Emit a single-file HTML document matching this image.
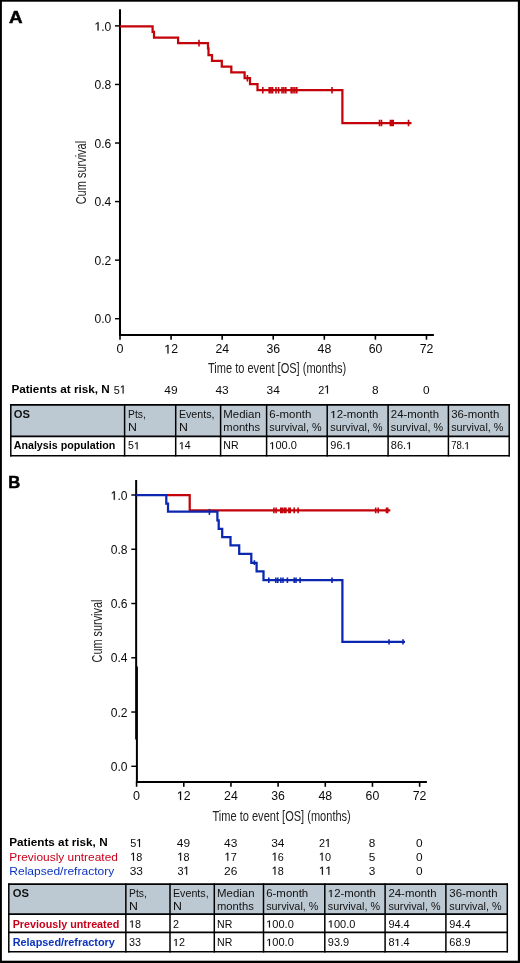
<!DOCTYPE html>
<html><head><meta charset="utf-8"><title>Figure</title>
<style>
html,body{margin:0;padding:0;background:#fff;}
svg{display:block;will-change:transform;font-family:"Liberation Sans", sans-serif;}
text{font-family:"Liberation Sans", sans-serif;}
</style></head><body>
<svg width="520" height="963" viewBox="0 0 520 963">
<rect x="0" y="0" width="520" height="963" fill="#000"/>
<rect x="1.9" y="1.7" width="515.95" height="959" fill="#fff"/>
<text x="9.0" y="23.1" font-size="17" font-weight="bold" fill="#000" textLength="13.6" lengthAdjust="spacingAndGlyphs" stroke="#000" stroke-width="0.5">A</text>
<line x1="120.0" y1="9.2" x2="120.0" y2="334.9" stroke="#000" stroke-width="2.05"/>
<line x1="120.0" y1="334.9" x2="120.0" y2="339.7" stroke="#000" stroke-width="1.6"/>
<line x1="119.0" y1="334.9" x2="433.9" y2="334.9" stroke="#000" stroke-width="2"/>
<line x1="115" y1="25.9" x2="120.0" y2="25.9" stroke="#000" stroke-width="1.45"/>
<g transform="translate(94.50,30.6) scale(0.9988,1)" fill="#0a0a0a"><path transform="translate(0.00,0) scale(0.00591)" d="M515 0V-1237L197 -1010V-1180L530 -1409H696V0Z" stroke="#0a0a0a" stroke-width="30"/><text x="6.73" y="0" font-size="12.1">.0</text></g>
<line x1="115" y1="84.46000000000001" x2="120.0" y2="84.46000000000001" stroke="#000" stroke-width="1.45"/>
<text x="111.3" y="89.16" font-size="12.1" fill="#0a0a0a" text-anchor="end" textLength="16.8" lengthAdjust="spacingAndGlyphs">0.8</text>
<line x1="115" y1="143.02" x2="120.0" y2="143.02" stroke="#000" stroke-width="1.45"/>
<text x="111.3" y="147.72" font-size="12.1" fill="#0a0a0a" text-anchor="end" textLength="16.8" lengthAdjust="spacingAndGlyphs">0.6</text>
<line x1="115" y1="201.58" x2="120.0" y2="201.58" stroke="#000" stroke-width="1.45"/>
<text x="111.3" y="206.28" font-size="12.1" fill="#0a0a0a" text-anchor="end" textLength="16.8" lengthAdjust="spacingAndGlyphs">0.4</text>
<line x1="115" y1="260.14" x2="120.0" y2="260.14" stroke="#000" stroke-width="1.45"/>
<text x="111.3" y="264.84000000000003" font-size="12.1" fill="#0a0a0a" text-anchor="end" textLength="16.8" lengthAdjust="spacingAndGlyphs">0.2</text>
<line x1="115" y1="318.7" x2="120.0" y2="318.7" stroke="#000" stroke-width="1.45"/>
<text x="111.3" y="323.40000000000003" font-size="12.1" fill="#0a0a0a" text-anchor="end" textLength="16.8" lengthAdjust="spacingAndGlyphs">0.0</text>
<text x="120.1" y="353.4" font-size="12.4" fill="#0a0a0a" text-anchor="middle" textLength="7.0" lengthAdjust="spacingAndGlyphs">0</text>
<line x1="171.08" y1="334.9" x2="171.08" y2="339.7" stroke="#000" stroke-width="1.6"/>
<g transform="translate(164.33,353.4) scale(0.9933,1)" fill="#0a0a0a"><path transform="translate(0.00,0) scale(0.00605)" d="M515 0V-1237L197 -1010V-1180L530 -1409H696V0Z" stroke="#0a0a0a" stroke-width="30"/><text x="6.90" y="0" font-size="12.4">2</text></g>
<line x1="222.16" y1="334.9" x2="222.16" y2="339.7" stroke="#000" stroke-width="1.6"/>
<text x="222.26" y="353.4" font-size="12.4" fill="#0a0a0a" text-anchor="middle" textLength="13.7" lengthAdjust="spacingAndGlyphs">24</text>
<line x1="273.24" y1="334.9" x2="273.24" y2="339.7" stroke="#000" stroke-width="1.6"/>
<text x="273.34000000000003" y="353.4" font-size="12.4" fill="#0a0a0a" text-anchor="middle" textLength="13.7" lengthAdjust="spacingAndGlyphs">36</text>
<line x1="324.32" y1="334.9" x2="324.32" y2="339.7" stroke="#000" stroke-width="1.6"/>
<text x="324.42" y="353.4" font-size="12.4" fill="#0a0a0a" text-anchor="middle" textLength="13.7" lengthAdjust="spacingAndGlyphs">48</text>
<line x1="375.4" y1="334.9" x2="375.4" y2="339.7" stroke="#000" stroke-width="1.6"/>
<text x="375.5" y="353.4" font-size="12.4" fill="#0a0a0a" text-anchor="middle" textLength="13.7" lengthAdjust="spacingAndGlyphs">60</text>
<line x1="426.48" y1="334.9" x2="426.48" y2="339.7" stroke="#000" stroke-width="1.6"/>
<text x="426.58000000000004" y="353.4" font-size="12.4" fill="#0a0a0a" text-anchor="middle" textLength="13.7" lengthAdjust="spacingAndGlyphs">72</text>
<text x="208" y="373" font-size="14" fill="#222" textLength="138.3" lengthAdjust="spacingAndGlyphs" stroke="none">Time to event [OS] (months)</text>
<text transform="translate(85.7,204.3) rotate(-90)" font-size="14.5" fill="#222" textLength="63.4" lengthAdjust="spacingAndGlyphs">Cum survival</text>
<path d="M120.0 26.25H152.6V31.9H154.0V37.5H178.1V43.15H208V48.4H208.5V55.0H212V60.8H221.8V66.6H231.3V72.4H244.6V78.2H250V84H257.5V90.2H342.4V123H411.5" fill="none" stroke="#c4020a" stroke-width="2.25" stroke-linejoin="miter"/>
<path d="M199.0 39.85V46.449999999999996" fill="none" stroke="#c4020a" stroke-width="1.6" stroke-linejoin="miter"/>
<path d="M247.4 75.0V81.6" fill="none" stroke="#c4020a" stroke-width="1.6" stroke-linejoin="miter"/>
<path d="M262.8 86.9V93.5M269.2 86.9V93.5M270.9 86.9V93.5M272.6 86.9V93.5M276 86.9V93.5M278.6 86.9V93.5M282 86.9V93.5M283.9 86.9V93.5M285.8 86.9V93.5M291.2 86.9V93.5M293 86.9V93.5M294.9 86.9V93.5M296.8 86.9V93.5M332 86.9V93.5" fill="none" stroke="#c4020a" stroke-width="1.6" stroke-linejoin="miter"/>
<path d="M379.5 119.7V126.3M381.5 119.7V126.3M390.4 119.7V126.3M391.8 119.7V126.3M393.2 119.7V126.3M408.5 119.7V126.3" fill="none" stroke="#c4020a" stroke-width="1.6" stroke-linejoin="miter"/>
<text x="11.4" y="393.4" font-size="11.3" font-weight="bold" fill="#000" textLength="98.3" lengthAdjust="spacingAndGlyphs">Patients at risk, N</text>
<g transform="translate(113.85,393.5) scale(0.9298,1)" fill="#0a0a0a"><text x="0.00" y="0" font-size="11.7">5</text><path transform="translate(6.51,0) scale(0.00571)" d="M515 0V-1237L197 -1010V-1180L530 -1409H696V0Z" stroke="#0a0a0a" stroke-width="30"/></g>
<text x="170.98000000000002" y="393.5" font-size="11.7" fill="#0a0a0a" text-anchor="middle" textLength="13.3" lengthAdjust="spacingAndGlyphs">49</text>
<text x="222.06" y="393.5" font-size="11.7" fill="#0a0a0a" text-anchor="middle" textLength="13.3" lengthAdjust="spacingAndGlyphs">43</text>
<text x="273.14" y="393.5" font-size="11.7" fill="#0a0a0a" text-anchor="middle" textLength="13.3" lengthAdjust="spacingAndGlyphs">34</text>
<g transform="translate(318.17,393.5) scale(0.9298,1)" fill="#0a0a0a"><text x="0.00" y="0" font-size="11.7">2</text><path transform="translate(6.51,0) scale(0.00571)" d="M515 0V-1237L197 -1010V-1180L530 -1409H696V0Z" stroke="#0a0a0a" stroke-width="30"/></g>
<text x="375.29999999999995" y="393.5" font-size="11.7" fill="#0a0a0a" text-anchor="middle" textLength="6.6" lengthAdjust="spacingAndGlyphs">8</text>
<text x="426.38" y="393.5" font-size="11.7" fill="#0a0a0a" text-anchor="middle" textLength="6.6" lengthAdjust="spacingAndGlyphs">0</text>
<rect x="10.8" y="404.9" width="498.4" height="50.85000000000002" fill="#fff"/>
<rect x="10.8" y="404.9" width="498.4" height="31.5" fill="#bdc9d2"/>
<line x1="10.8" y1="404.2" x2="10.8" y2="456.45" stroke="#000" stroke-width="1.5"/>
<line x1="124.6" y1="404.2" x2="124.6" y2="456.45" stroke="#000" stroke-width="1.5"/>
<line x1="175.7" y1="404.2" x2="175.7" y2="456.45" stroke="#000" stroke-width="1.5"/>
<line x1="220.6" y1="404.2" x2="220.6" y2="456.45" stroke="#000" stroke-width="1.5"/>
<line x1="266.6" y1="404.2" x2="266.6" y2="456.45" stroke="#000" stroke-width="1.5"/>
<line x1="327.2" y1="404.2" x2="327.2" y2="456.45" stroke="#000" stroke-width="1.5"/>
<line x1="388.1" y1="404.2" x2="388.1" y2="456.45" stroke="#000" stroke-width="1.5"/>
<line x1="448.4" y1="404.2" x2="448.4" y2="456.45" stroke="#000" stroke-width="1.5"/>
<line x1="509.2" y1="404.2" x2="509.2" y2="456.45" stroke="#000" stroke-width="1.5"/>
<line x1="10.100000000000001" y1="404.9" x2="509.9" y2="404.9" stroke="#000" stroke-width="1.6"/>
<line x1="10.100000000000001" y1="436.4" x2="509.9" y2="436.4" stroke="#000" stroke-width="1.6"/>
<line x1="10.100000000000001" y1="455.75" x2="509.9" y2="455.75" stroke="#000" stroke-width="1.6"/>
<text x="13.700000000000001" y="418.1" font-size="10.2" font-weight="bold" fill="#111" textLength="16.2" lengthAdjust="spacingAndGlyphs">OS</text>
<text x="128.10000000000002" y="418.1" font-size="10.2" fill="#111" textLength="17.8" lengthAdjust="spacingAndGlyphs">Pts,</text>
<text x="128.10000000000002" y="431.2" font-size="10.2" fill="#111" textLength="8.9" lengthAdjust="spacingAndGlyphs">N</text>
<text x="178.9" y="418.1" font-size="10.2" fill="#111" textLength="35.6" lengthAdjust="spacingAndGlyphs">Events,</text>
<text x="178.9" y="431.2" font-size="10.2" fill="#111" textLength="8.9" lengthAdjust="spacingAndGlyphs">N</text>
<text x="223.3" y="418.1" font-size="10.2" fill="#111" textLength="37.5" lengthAdjust="spacingAndGlyphs">Median</text>
<text x="223.3" y="431.2" font-size="10.2" fill="#111" textLength="36.8" lengthAdjust="spacingAndGlyphs">months</text>
<text x="269.3" y="418.1" font-size="10.2" fill="#111" textLength="42" lengthAdjust="spacingAndGlyphs">6-month</text>
<text x="269.3" y="431.2" font-size="10.2" fill="#111" textLength="52.2" lengthAdjust="spacingAndGlyphs">survival, %</text>
<g transform="translate(330.30,418.1) scale(1.1186,1)" fill="#111"><path transform="translate(0.00,0) scale(0.00498)" d="M515 0V-1237L197 -1010V-1180L530 -1409H696V0Z" stroke="#111" stroke-width="30"/><text x="5.67" y="0" font-size="10.2">2-month</text></g>
<text x="330.3" y="431.2" font-size="10.2" fill="#111" textLength="52.2" lengthAdjust="spacingAndGlyphs">survival, %</text>
<text x="390.8" y="418.1" font-size="10.2" fill="#111" textLength="48.2" lengthAdjust="spacingAndGlyphs">24-month</text>
<text x="390.8" y="431.2" font-size="10.2" fill="#111" textLength="52.2" lengthAdjust="spacingAndGlyphs">survival, %</text>
<text x="451.2" y="418.1" font-size="10.2" fill="#111" textLength="48.2" lengthAdjust="spacingAndGlyphs">36-month</text>
<text x="451.2" y="431.2" font-size="10.2" fill="#111" textLength="52.2" lengthAdjust="spacingAndGlyphs">survival, %</text>
<text x="13.700000000000001" y="449.2" font-size="10.2" font-weight="bold" fill="#000" textLength="101.6" lengthAdjust="spacingAndGlyphs">Analysis population</text>
<g transform="translate(128.10,449.2) scale(1.0401,1)" fill="#0a0a0a"><text x="0.00" y="0" font-size="10.2">5</text><path transform="translate(5.67,0) scale(0.00498)" d="M515 0V-1237L197 -1010V-1180L530 -1409H696V0Z" stroke="#0a0a0a" stroke-width="30"/></g>
<g transform="translate(178.90,449.2) scale(1.0401,1)" fill="#0a0a0a"><path transform="translate(0.00,0) scale(0.00498)" d="M515 0V-1237L197 -1010V-1180L530 -1409H696V0Z" stroke="#0a0a0a" stroke-width="30"/><text x="5.67" y="0" font-size="10.2">4</text></g>
<text x="223.3" y="449.2" font-size="10.2" fill="#0a0a0a" textLength="15.3" lengthAdjust="spacingAndGlyphs">NR</text>
<g transform="translate(269.30,449.2) scale(1.0813,1)" fill="#0a0a0a"><path transform="translate(0.00,0) scale(0.00498)" d="M515 0V-1237L197 -1010V-1180L530 -1409H696V0Z" stroke="#0a0a0a" stroke-width="30"/><text x="5.67" y="0" font-size="10.2">00.0</text></g>
<g transform="translate(330.30,449.2) scale(1.0729,1)" fill="#0a0a0a"><text x="0.00" y="0" font-size="10.2">96.</text><path transform="translate(14.18,0) scale(0.00498)" d="M515 0V-1237L197 -1010V-1180L530 -1409H696V0Z" stroke="#0a0a0a" stroke-width="30"/></g>
<g transform="translate(390.80,449.2) scale(1.0830,1)" fill="#0a0a0a"><text x="0.00" y="0" font-size="10.2">86.</text><path transform="translate(14.18,0) scale(0.00498)" d="M515 0V-1237L197 -1010V-1180L530 -1409H696V0Z" stroke="#0a0a0a" stroke-width="30"/></g>
<g transform="translate(451.20,449.2) scale(0.9369,1)" fill="#0a0a0a"><text x="0.00" y="0" font-size="10.2">78.</text><path transform="translate(14.18,0) scale(0.00498)" d="M515 0V-1237L197 -1010V-1180L530 -1409H696V0Z" stroke="#0a0a0a" stroke-width="30"/></g>
<text x="8.2" y="488.1" font-size="16.6" font-weight="bold" fill="#000" stroke="#000" stroke-width="0.5">B</text>
<line x1="136.15" y1="480" x2="136.15" y2="739.6" stroke="#000" stroke-width="2"/>
<line x1="136.9" y1="666.5" x2="136.9" y2="782" stroke="#000" stroke-width="2"/>
<line x1="136.6" y1="781.9" x2="136.6" y2="786.8" stroke="#000" stroke-width="1.6"/>
<line x1="135.9" y1="781.9" x2="426.9" y2="781.9" stroke="#000" stroke-width="2"/>
<line x1="131.3" y1="495.0" x2="136.15" y2="495.0" stroke="#000" stroke-width="1.45"/>
<g transform="translate(110.70,499.70000000000005) scale(0.9988,1)" fill="#0a0a0a"><path transform="translate(0.00,0) scale(0.00591)" d="M515 0V-1237L197 -1010V-1180L530 -1409H696V0Z" stroke="#0a0a0a" stroke-width="30"/><text x="6.73" y="0" font-size="12.1">.0</text></g>
<line x1="131.3" y1="549.26" x2="136.15" y2="549.26" stroke="#000" stroke-width="1.45"/>
<text x="127.5" y="553.96" font-size="12.1" fill="#0a0a0a" text-anchor="end" textLength="16.8" lengthAdjust="spacingAndGlyphs">0.8</text>
<line x1="131.3" y1="603.52" x2="136.15" y2="603.52" stroke="#000" stroke-width="1.45"/>
<text x="127.5" y="608.22" font-size="12.1" fill="#0a0a0a" text-anchor="end" textLength="16.8" lengthAdjust="spacingAndGlyphs">0.6</text>
<line x1="131.3" y1="657.78" x2="136.15" y2="657.78" stroke="#000" stroke-width="1.45"/>
<text x="127.5" y="662.48" font-size="12.1" fill="#0a0a0a" text-anchor="end" textLength="16.8" lengthAdjust="spacingAndGlyphs">0.4</text>
<line x1="131.3" y1="712.04" x2="136.15" y2="712.04" stroke="#000" stroke-width="1.45"/>
<text x="127.5" y="716.74" font-size="12.1" fill="#0a0a0a" text-anchor="end" textLength="16.8" lengthAdjust="spacingAndGlyphs">0.2</text>
<line x1="131.3" y1="766.3" x2="136.15" y2="766.3" stroke="#000" stroke-width="1.45"/>
<text x="127.5" y="771.0" font-size="12.1" fill="#0a0a0a" text-anchor="end" textLength="16.8" lengthAdjust="spacingAndGlyphs">0.0</text>
<text x="136.6" y="800.0" font-size="12.4" fill="#0a0a0a" text-anchor="middle" textLength="7.0" lengthAdjust="spacingAndGlyphs">0</text>
<line x1="183.77" y1="781.9" x2="183.77" y2="786.8" stroke="#000" stroke-width="1.6"/>
<g transform="translate(176.92,800.0) scale(0.9933,1)" fill="#0a0a0a"><path transform="translate(0.00,0) scale(0.00605)" d="M515 0V-1237L197 -1010V-1180L530 -1409H696V0Z" stroke="#0a0a0a" stroke-width="30"/><text x="6.90" y="0" font-size="12.4">2</text></g>
<line x1="230.94" y1="781.9" x2="230.94" y2="786.8" stroke="#000" stroke-width="1.6"/>
<text x="230.94" y="800.0" font-size="12.4" fill="#0a0a0a" text-anchor="middle" textLength="13.7" lengthAdjust="spacingAndGlyphs">24</text>
<line x1="278.11" y1="781.9" x2="278.11" y2="786.8" stroke="#000" stroke-width="1.6"/>
<text x="278.11" y="800.0" font-size="12.4" fill="#0a0a0a" text-anchor="middle" textLength="13.7" lengthAdjust="spacingAndGlyphs">36</text>
<line x1="325.28" y1="781.9" x2="325.28" y2="786.8" stroke="#000" stroke-width="1.6"/>
<text x="325.28" y="800.0" font-size="12.4" fill="#0a0a0a" text-anchor="middle" textLength="13.7" lengthAdjust="spacingAndGlyphs">48</text>
<line x1="372.45" y1="781.9" x2="372.45" y2="786.8" stroke="#000" stroke-width="1.6"/>
<text x="372.45" y="800.0" font-size="12.4" fill="#0a0a0a" text-anchor="middle" textLength="13.7" lengthAdjust="spacingAndGlyphs">60</text>
<line x1="419.62" y1="781.9" x2="419.62" y2="786.8" stroke="#000" stroke-width="1.6"/>
<text x="419.62" y="800.0" font-size="12.4" fill="#0a0a0a" text-anchor="middle" textLength="13.7" lengthAdjust="spacingAndGlyphs">72</text>
<text x="212.5" y="820.7" font-size="14" fill="#222" textLength="138.3" lengthAdjust="spacingAndGlyphs" stroke="none">Time to event [OS] (months)</text>
<text transform="translate(101.6,662.4) rotate(-90)" font-size="14.5" fill="#222" textLength="62.8" lengthAdjust="spacingAndGlyphs">Cum survival</text>
<path d="M166.6 495.1H189.7V510.35H390.3" fill="none" stroke="#c4020a" stroke-width="2.25" stroke-linejoin="miter"/>
<path d="M273.9 507.45000000000005V513.25M276.1 507.45000000000005V513.25M280.8 507.45000000000005V513.25M282.4 507.45000000000005V513.25M284.3 507.45000000000005V513.25M285.9 507.45000000000005V513.25M288.9 507.45000000000005V513.25M290.2 507.45000000000005V513.25M294.2 507.45000000000005V513.25M298.1 507.45000000000005V513.25M375.7 507.45000000000005V513.25M378.2 507.45000000000005V513.25M386.5 507.45000000000005V513.25M387.7 507.45000000000005V513.25" fill="none" stroke="#c4020a" stroke-width="1.6" stroke-linejoin="miter"/>
<path d="M136.15 495.1H166.3V503.6H168.0V511.7H217.4V520.3H218.7V528.8H222.2V537.2H230.5V545.4H239.2V553.85H251.3V562.9H256.6V571.25H263.5V580.2H342.4V641.9H405" fill="none" stroke="#0b27b0" stroke-width="2.25" stroke-linejoin="miter"/>
<path d="M209.4 508.9V514.9" fill="none" stroke="#0b27b0" stroke-width="1.6" stroke-linejoin="miter"/>
<path d="M254.4 560.2V565.0" fill="none" stroke="#0b27b0" stroke-width="1.6" stroke-linejoin="miter"/>
<path d="M268.8 577.4000000000001V583.0M275.8 577.4000000000001V583.0M277.8 577.4000000000001V583.0M280.9 577.4000000000001V583.0M283 577.4000000000001V583.0M287.4 577.4000000000001V583.0M294.2 577.4000000000001V583.0M296 577.4000000000001V583.0M300.1 577.4000000000001V583.0M332 577.4000000000001V583.0" fill="none" stroke="#0b27b0" stroke-width="1.6" stroke-linejoin="miter"/>
<path d="M389 639.1999999999999V644.6M403 639.1999999999999V644.6" fill="none" stroke="#0b27b0" stroke-width="1.6" stroke-linejoin="miter"/>
<text x="9.3" y="846.3" font-size="11.3" font-weight="bold" fill="#000" textLength="98.3" lengthAdjust="spacingAndGlyphs">Patients at risk, N</text>
<text x="9.3" y="860.7" font-size="11.3" fill="#c8001a" textLength="108.6" lengthAdjust="spacingAndGlyphs">Previously untreated</text>
<text x="9.3" y="874.6" font-size="11.3" fill="#0c33bd" textLength="104.9" lengthAdjust="spacingAndGlyphs">Relapsed/refractory</text>
<g transform="translate(130.25,847.0) scale(0.9298,1)" fill="#0a0a0a"><text x="0.00" y="0" font-size="11.7">5</text><path transform="translate(6.51,0) scale(0.00571)" d="M515 0V-1237L197 -1010V-1180L530 -1409H696V0Z" stroke="#0a0a0a" stroke-width="30"/></g>
<text x="183.47" y="847.0" font-size="11.7" fill="#0a0a0a" text-anchor="middle" textLength="13.3" lengthAdjust="spacingAndGlyphs">49</text>
<text x="230.64" y="847.0" font-size="11.7" fill="#0a0a0a" text-anchor="middle" textLength="13.3" lengthAdjust="spacingAndGlyphs">43</text>
<text x="277.81" y="847.0" font-size="11.7" fill="#0a0a0a" text-anchor="middle" textLength="13.3" lengthAdjust="spacingAndGlyphs">34</text>
<g transform="translate(318.93,847.0) scale(0.9298,1)" fill="#0a0a0a"><text x="0.00" y="0" font-size="11.7">2</text><path transform="translate(6.51,0) scale(0.00571)" d="M515 0V-1237L197 -1010V-1180L530 -1409H696V0Z" stroke="#0a0a0a" stroke-width="30"/></g>
<text x="372.15" y="847.0" font-size="11.7" fill="#0a0a0a" text-anchor="middle" textLength="6.6" lengthAdjust="spacingAndGlyphs">8</text>
<text x="419.32" y="847.0" font-size="11.7" fill="#0a0a0a" text-anchor="middle" textLength="6.6" lengthAdjust="spacingAndGlyphs">0</text>
<g transform="translate(130.25,860.7) scale(0.9298,1)" fill="#0a0a0a"><path transform="translate(0.00,0) scale(0.00571)" d="M515 0V-1237L197 -1010V-1180L530 -1409H696V0Z" stroke="#0a0a0a" stroke-width="30"/><text x="6.51" y="0" font-size="11.7">8</text></g>
<g transform="translate(177.42,860.7) scale(0.9298,1)" fill="#0a0a0a"><path transform="translate(0.00,0) scale(0.00571)" d="M515 0V-1237L197 -1010V-1180L530 -1409H696V0Z" stroke="#0a0a0a" stroke-width="30"/><text x="6.51" y="0" font-size="11.7">8</text></g>
<g transform="translate(224.59,860.7) scale(0.9298,1)" fill="#0a0a0a"><path transform="translate(0.00,0) scale(0.00571)" d="M515 0V-1237L197 -1010V-1180L530 -1409H696V0Z" stroke="#0a0a0a" stroke-width="30"/><text x="6.51" y="0" font-size="11.7">7</text></g>
<g transform="translate(271.76,860.7) scale(0.9298,1)" fill="#0a0a0a"><path transform="translate(0.00,0) scale(0.00571)" d="M515 0V-1237L197 -1010V-1180L530 -1409H696V0Z" stroke="#0a0a0a" stroke-width="30"/><text x="6.51" y="0" font-size="11.7">6</text></g>
<g transform="translate(318.93,860.7) scale(0.9298,1)" fill="#0a0a0a"><path transform="translate(0.00,0) scale(0.00571)" d="M515 0V-1237L197 -1010V-1180L530 -1409H696V0Z" stroke="#0a0a0a" stroke-width="30"/><text x="6.51" y="0" font-size="11.7">0</text></g>
<text x="372.15" y="860.7" font-size="11.7" fill="#0a0a0a" text-anchor="middle" textLength="6.6" lengthAdjust="spacingAndGlyphs">5</text>
<text x="419.32" y="860.7" font-size="11.7" fill="#0a0a0a" text-anchor="middle" textLength="6.6" lengthAdjust="spacingAndGlyphs">0</text>
<text x="136.29999999999998" y="874.7" font-size="11.7" fill="#0a0a0a" text-anchor="middle" textLength="13.3" lengthAdjust="spacingAndGlyphs">33</text>
<g transform="translate(177.42,874.7) scale(0.9298,1)" fill="#0a0a0a"><text x="0.00" y="0" font-size="11.7">3</text><path transform="translate(6.51,0) scale(0.00571)" d="M515 0V-1237L197 -1010V-1180L530 -1409H696V0Z" stroke="#0a0a0a" stroke-width="30"/></g>
<text x="230.64" y="874.7" font-size="11.7" fill="#0a0a0a" text-anchor="middle" textLength="13.3" lengthAdjust="spacingAndGlyphs">26</text>
<g transform="translate(271.76,874.7) scale(0.9298,1)" fill="#0a0a0a"><path transform="translate(0.00,0) scale(0.00571)" d="M515 0V-1237L197 -1010V-1180L530 -1409H696V0Z" stroke="#0a0a0a" stroke-width="30"/><text x="6.51" y="0" font-size="11.7">8</text></g>
<g transform="translate(318.93,874.7) scale(0.9962,1)" fill="#0a0a0a"><path transform="translate(0.00,0) scale(0.00571)" d="M515 0V-1237L197 -1010V-1180L530 -1409H696V0Z" stroke="#0a0a0a" stroke-width="30"/><path transform="translate(6.51,0) scale(0.00571)" d="M515 0V-1237L197 -1010V-1180L530 -1409H696V0Z" stroke="#0a0a0a" stroke-width="30"/></g>
<text x="372.15" y="874.7" font-size="11.7" fill="#0a0a0a" text-anchor="middle" textLength="6.6" lengthAdjust="spacingAndGlyphs">3</text>
<text x="419.32" y="874.7" font-size="11.7" fill="#0a0a0a" text-anchor="middle" textLength="6.6" lengthAdjust="spacingAndGlyphs">0</text>
<rect x="8.8" y="884.1" width="498.5" height="67.69999999999993" fill="#fff"/>
<rect x="8.8" y="884.1" width="498.5" height="30.0" fill="#bdc9d2"/>
<line x1="8.8" y1="883.4" x2="8.8" y2="952.5" stroke="#000" stroke-width="1.5"/>
<line x1="125.85" y1="883.4" x2="125.85" y2="952.5" stroke="#000" stroke-width="1.5"/>
<line x1="170" y1="883.4" x2="170" y2="952.5" stroke="#000" stroke-width="1.5"/>
<line x1="214.3" y1="883.4" x2="214.3" y2="952.5" stroke="#000" stroke-width="1.5"/>
<line x1="263.5" y1="883.4" x2="263.5" y2="952.5" stroke="#000" stroke-width="1.5"/>
<line x1="324.8" y1="883.4" x2="324.8" y2="952.5" stroke="#000" stroke-width="1.5"/>
<line x1="385.1" y1="883.4" x2="385.1" y2="952.5" stroke="#000" stroke-width="1.5"/>
<line x1="445.9" y1="883.4" x2="445.9" y2="952.5" stroke="#000" stroke-width="1.5"/>
<line x1="507.3" y1="883.4" x2="507.3" y2="952.5" stroke="#000" stroke-width="1.5"/>
<line x1="8.100000000000001" y1="884.1" x2="508.0" y2="884.1" stroke="#000" stroke-width="1.6"/>
<line x1="8.100000000000001" y1="914.1" x2="508.0" y2="914.1" stroke="#000" stroke-width="1.6"/>
<line x1="8.100000000000001" y1="932.4" x2="508.0" y2="932.4" stroke="#000" stroke-width="1.6"/>
<line x1="8.100000000000001" y1="951.8" x2="508.0" y2="951.8" stroke="#000" stroke-width="1.6"/>
<text x="12.700000000000001" y="896.9" font-size="10.2" font-weight="bold" fill="#111" textLength="16.2" lengthAdjust="spacingAndGlyphs">OS</text>
<text x="129.10000000000002" y="896.9" font-size="10.2" fill="#111" textLength="17.8" lengthAdjust="spacingAndGlyphs">Pts,</text>
<text x="129.10000000000002" y="910.2" font-size="10.2" fill="#111" textLength="8.9" lengthAdjust="spacingAndGlyphs">N</text>
<text x="173.0" y="896.9" font-size="10.2" fill="#111" textLength="35.6" lengthAdjust="spacingAndGlyphs">Events,</text>
<text x="173.0" y="910.2" font-size="10.2" fill="#111" textLength="8.9" lengthAdjust="spacingAndGlyphs">N</text>
<text x="217.0" y="896.9" font-size="10.2" fill="#111" textLength="37.5" lengthAdjust="spacingAndGlyphs">Median</text>
<text x="217.0" y="910.2" font-size="10.2" fill="#111" textLength="36.8" lengthAdjust="spacingAndGlyphs">months</text>
<text x="266.2" y="896.9" font-size="10.2" fill="#111" textLength="42" lengthAdjust="spacingAndGlyphs">6-month</text>
<text x="266.2" y="910.2" font-size="10.2" fill="#111" textLength="52.2" lengthAdjust="spacingAndGlyphs">survival, %</text>
<g transform="translate(327.80,896.9) scale(1.1186,1)" fill="#111"><path transform="translate(0.00,0) scale(0.00498)" d="M515 0V-1237L197 -1010V-1180L530 -1409H696V0Z" stroke="#111" stroke-width="30"/><text x="5.67" y="0" font-size="10.2">2-month</text></g>
<text x="327.8" y="910.2" font-size="10.2" fill="#111" textLength="52.2" lengthAdjust="spacingAndGlyphs">survival, %</text>
<text x="388.40000000000003" y="896.9" font-size="10.2" fill="#111" textLength="48.2" lengthAdjust="spacingAndGlyphs">24-month</text>
<text x="388.40000000000003" y="910.2" font-size="10.2" fill="#111" textLength="52.2" lengthAdjust="spacingAndGlyphs">survival, %</text>
<text x="449.3" y="896.9" font-size="10.2" fill="#111" textLength="48.2" lengthAdjust="spacingAndGlyphs">36-month</text>
<text x="449.3" y="910.2" font-size="10.2" fill="#111" textLength="52.2" lengthAdjust="spacingAndGlyphs">survival, %</text>
<text x="12.700000000000001" y="927.5" font-size="10.2" font-weight="bold" fill="#c8001a" textLength="106.6" lengthAdjust="spacingAndGlyphs">Previously untreated</text>
<g transform="translate(129.10,927.5) scale(1.0577,1)" fill="#0a0a0a"><path transform="translate(0.00,0) scale(0.00498)" d="M515 0V-1237L197 -1010V-1180L530 -1409H696V0Z" stroke="#0a0a0a" stroke-width="30"/><text x="5.67" y="0" font-size="10.2">8</text></g>
<text x="173.0" y="927.5" font-size="10.2" fill="#0a0a0a" textLength="6" lengthAdjust="spacingAndGlyphs">2</text>
<text x="217.0" y="927.5" font-size="10.2" fill="#0a0a0a" textLength="15.3" lengthAdjust="spacingAndGlyphs">NR</text>
<g transform="translate(266.20,927.5) scale(1.0813,1)" fill="#0a0a0a"><path transform="translate(0.00,0) scale(0.00498)" d="M515 0V-1237L197 -1010V-1180L530 -1409H696V0Z" stroke="#0a0a0a" stroke-width="30"/><text x="5.67" y="0" font-size="10.2">00.0</text></g>
<g transform="translate(327.80,927.5) scale(1.0813,1)" fill="#0a0a0a"><path transform="translate(0.00,0) scale(0.00498)" d="M515 0V-1237L197 -1010V-1180L530 -1409H696V0Z" stroke="#0a0a0a" stroke-width="30"/><text x="5.67" y="0" font-size="10.2">00.0</text></g>
<text x="388.40000000000003" y="927.5" font-size="10.2" fill="#0a0a0a" textLength="21.3" lengthAdjust="spacingAndGlyphs">94.4</text>
<text x="449.3" y="927.5" font-size="10.2" fill="#0a0a0a" textLength="21.3" lengthAdjust="spacingAndGlyphs">94.4</text>
<text x="12.700000000000001" y="945.9" font-size="10.2" font-weight="bold" fill="#0c33bd" textLength="102.2" lengthAdjust="spacingAndGlyphs">Relapsed/refractory</text>
<text x="129.10000000000002" y="945.9" font-size="10.2" fill="#0a0a0a" textLength="12" lengthAdjust="spacingAndGlyphs">33</text>
<g transform="translate(173.00,945.9) scale(1.0577,1)" fill="#0a0a0a"><path transform="translate(0.00,0) scale(0.00498)" d="M515 0V-1237L197 -1010V-1180L530 -1409H696V0Z" stroke="#0a0a0a" stroke-width="30"/><text x="5.67" y="0" font-size="10.2">2</text></g>
<text x="217.0" y="945.9" font-size="10.2" fill="#0a0a0a" textLength="15.3" lengthAdjust="spacingAndGlyphs">NR</text>
<g transform="translate(266.20,945.9) scale(1.0813,1)" fill="#0a0a0a"><path transform="translate(0.00,0) scale(0.00498)" d="M515 0V-1237L197 -1010V-1180L530 -1409H696V0Z" stroke="#0a0a0a" stroke-width="30"/><text x="5.67" y="0" font-size="10.2">00.0</text></g>
<text x="327.8" y="945.9" font-size="10.2" fill="#0a0a0a" textLength="21.3" lengthAdjust="spacingAndGlyphs">93.9</text>
<g transform="translate(388.40,945.9) scale(1.0729,1)" fill="#0a0a0a"><text x="0.00" y="0" font-size="10.2">8</text><path transform="translate(5.67,0) scale(0.00498)" d="M515 0V-1237L197 -1010V-1180L530 -1409H696V0Z" stroke="#0a0a0a" stroke-width="30"/><text x="11.35" y="0" font-size="10.2">.4</text></g>
<text x="449.3" y="945.9" font-size="10.2" fill="#0a0a0a" textLength="21.3" lengthAdjust="spacingAndGlyphs">68.9</text>
</svg>
</body></html>
